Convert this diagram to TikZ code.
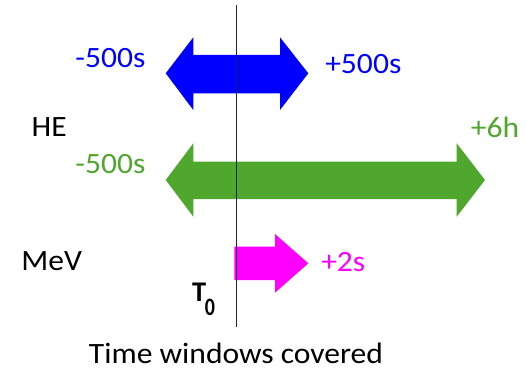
\documentclass[tikz,border=0pt]{standalone}
\usepackage{fontspec}
\setmainfont{Carlito}
\definecolor{hegreen}{RGB}{80,167,46}
\definecolor{heblue}{RGB}{0,0,255}
\definecolor{mevpink}{RGB}{255,0,255}
\definecolor{axisc}{RGB}{22,38,58}
\begin{document}
\begin{tikzpicture}[x=1pt,y=-1pt,
  lbl/.style={inner sep=0pt,anchor=base,font=\fontsize{29.5}{31}\selectfont,xscale=1.07,transform shape},
  blueC/.style={fill=heblue,draw=none},
  greenC/.style={fill=hegreen,draw=none},
  magC/.style={fill=mevpink,draw=none}]
\useasboundingbox (0,0) rectangle (526,371);
% blue double arrow
\fill[blueC] (165.7,73.3) -- (193.3,37.3) -- (193.3,55) -- (280,55) -- (280,37.3) -- (308.3,73.3)
  -- (280,110) -- (280,93.3) -- (193.3,93.3) -- (193.3,110) -- cycle;
% green double arrow
\fill[greenC] (165.7,180) -- (193.3,143.3) -- (193.3,161.7) -- (456.7,161.7) -- (456.7,143.3) -- (485,180)
  -- (456.7,216.7) -- (456.7,199) -- (193.3,199) -- (193.3,216.7) -- cycle;
% magenta arrow
\fill[magC] (234.3,246.7) -- (275,246.7) -- (275,234) -- (308.3,263.3) -- (275,292.7) -- (275,280) -- (234.3,280) -- cycle;
% T0 line
\coordinate (ltop) at (236.5,5);
\coordinate (lbot) at (236.5,327);
\draw[axisc,line width=1.8pt] (ltop) -- (lbot);
% labels
\node[lbl,text=heblue] (bm) at (110.5,68) {-500s};
\node[lbl,text=heblue] (bp) at (363.3,73.3) {+500s};
\node[lbl] (he) at (49.2,136.7) {HE};
\node[lbl,text=hegreen] (gp) at (495,137.3) {+6h};
\node[lbl,text=hegreen] (gm) at (110.5,173.3) {-500s};
\node[lbl] (mev) at (51.7,270) {MeV};
\node[lbl,text=mevpink] (mp) at (343.3,271.7) {+2s};
\node[lbl] (cap) at (236,363.3) {Time windows covered};
\node[inner sep=0pt,anchor=base,font=\fontsize{28.5}{30}\selectfont\bfseries] (t0) at (199.2,301.7) {T};
\node[inner sep=0pt,anchor=base,font=\fontsize{25}{26}\selectfont\bfseries,xscale=0.8,transform shape] (t0sub) at (210,315) {0};
\end{tikzpicture}
\end{document}
